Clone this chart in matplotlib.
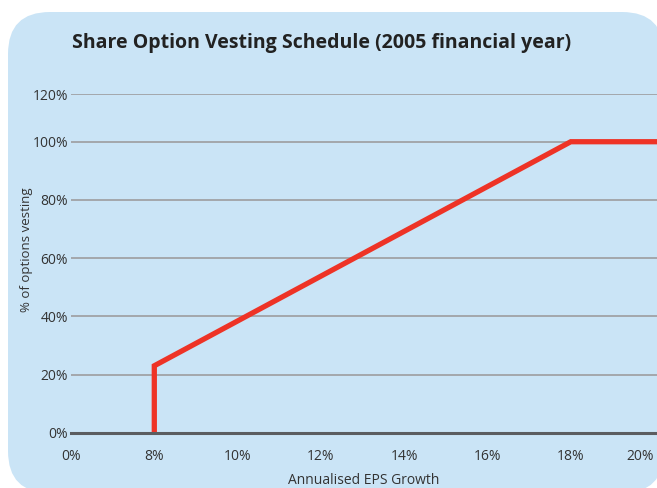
import matplotlib.pyplot as plt
from matplotlib.patches import FancyBboxPatch

# vesting schedule (x in EPS growth %, y in % of options vesting)
eps_growth = [8, 8, 18, 20.1]
vesting = [0, 23, 100, 100]

# the x axis in the source is not to scale: the "0%" tick sits one step left of 8%
x_tick_pos = [6, 8, 10, 12, 14, 16, 18, 20]
x_tick_labels = ['0%', '8%', '10%', '12%', '14%', '16%', '18%', '20%']
# top gridline is drawn a bit squeezed in the source
y_tick_pos = [0, 20, 40, 60, 80, 100, 116.4]
y_tick_labels = ['0%', '20%', '40%', '60%', '80%', '100%', '120%']

plt.rcParams['font.family'] = ['Open Sans', 'DejaVu Sans']

W, H = 6.57, 4.88
fig = plt.figure(figsize=(W, H), dpi=100)
fig.patch.set_facecolor('white')

# rounded light blue panel
panel = FancyBboxPatch((0.08, -0.05), 6.56, 4.81,
                       boxstyle='round,pad=0,rounding_size=0.42',
                       transform=fig.dpi_scale_trans,
                       facecolor='#cae4f6', edgecolor='none', zorder=-10)
fig.patches.append(panel)

ax = fig.add_axes([71 / 657, 55.3 / 488, 1 - 71 / 657, (394 - 55.3) / 488])
ax.set_facecolor('none')
ax.set_zorder(5)

for y in y_tick_pos[1:]:
    ax.axhline(y, color='#a3a7ab', lw=1.4, zorder=1)

ax.plot(eps_growth, vesting, color='#ee3326', lw=3.8, solid_joinstyle='miter',
        solid_capstyle='butt', zorder=3, clip_on=False)

ax.set_xlim(6, 20.07)
ax.set_ylim(0, 116.4)

for s in ['top', 'right', 'left']:
    ax.spines[s].set_visible(False)
ax.spines['bottom'].set_color('#5b5d60')
ax.spines['bottom'].set_linewidth(2.2)
ax.spines['bottom'].set_zorder(4)

ax.set_xticks(x_tick_pos)
ax.set_xticklabels(x_tick_labels)
ax.set_yticks(y_tick_pos)
ax.set_yticklabels(y_tick_labels)
ax.tick_params(axis='both', length=0, labelsize=10, labelcolor='#333333')
ax.tick_params(axis='x', pad=12)
ax.tick_params(axis='y', pad=2)
plt.setp(ax.get_xticklabels()[-1], ha='right')

ax.set_xlabel('Annualised EPS Growth', fontsize=10, color='#333333', labelpad=6)
ax.set_ylabel('% of options vesting', fontsize=9.5, color='#333333')
ax.yaxis.set_label_coords(-0.064, 0.54)

fig.text(72 / 657, 1 - 43 / 488, 'Share Option Vesting Schedule (2005 financial year)',
         fontsize=14, fontweight='bold', color='#222222', va='center', ha='left')

fig.savefig('out.png', dpi=100)
